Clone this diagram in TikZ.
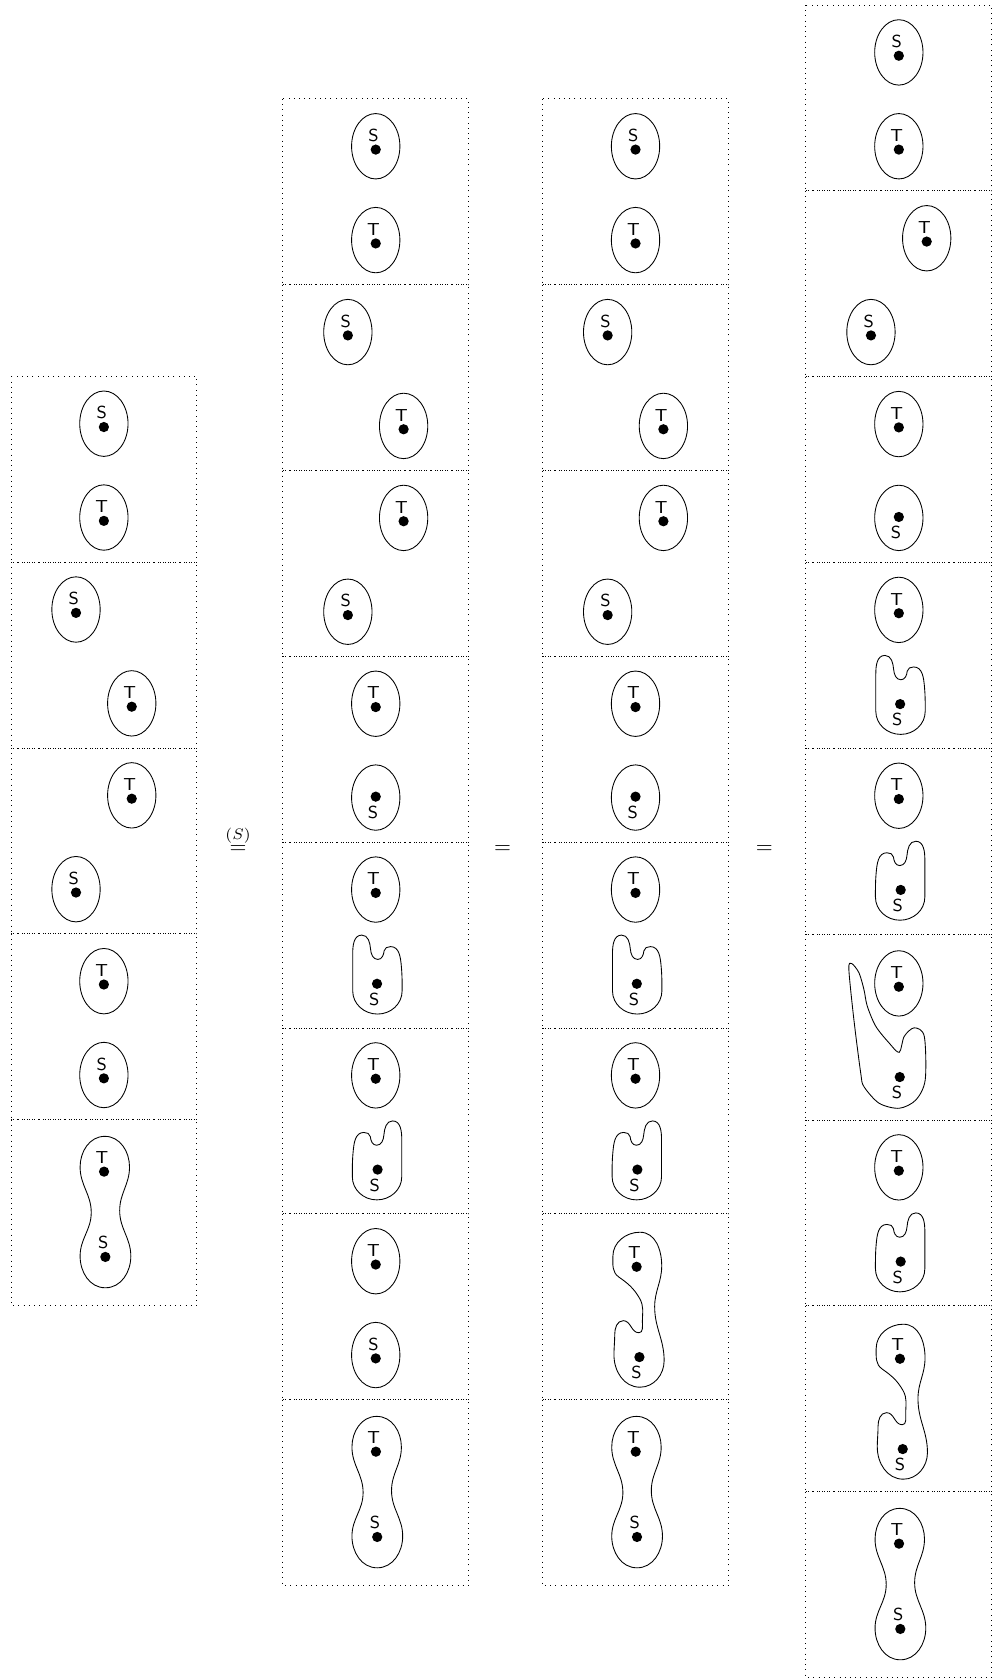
\documentclass[tikz,border=0pt]{standalone}
\usepackage{amsmath}
\usepackage{tikz}

% a marked point with its letter above / below
\newcommand{\ptup}[3]{%
  \node[dot] (#1) at (#2) {};
  \node[tag] (#1l) at ([shift={(-1pt,6.5pt)}]#1.center) {#3};}
\newcommand{\ptdown}[3]{%
  \node[dot] (#1) at (#2) {};
  \node[tag] (#1l) at ([shift={(-1.3pt,-7.1pt)}]#1.center) {#3};}
% an oval round a marked point
\newcommand{\ringup}[4]{%
  \draw (#2,#3) ellipse [x radius=0.13,y radius=0.176];
  \ptup{#1}{#2,#3-0.018}{#4}}
\newcommand{\ringdown}[4]{%
  \draw (#2,#3) ellipse [x radius=0.13,y radius=0.176];
  \ptdown{#1}{#2,#3+0.005}{#4}}

% the blob with a notch on top
\newcommand{\bumppath}{(-0.075,0) to[out=0,in=95] (-0.028,-0.075) to[out=-85,in=180] (0.011,-0.131)
  to[out=0,in=-95] (0.045,-0.085) to[out=85,in=180] (0.08,-0.062) to[out=0,in=95] (0.138,-0.17)
  to[out=-85,in=90] (0.142,-0.3) to[out=-90,in=0] (0.01,-0.425) to[out=180,in=-90] (-0.124,-0.3)
  -- (-0.124,-0.1) to[out=90,in=180] (-0.075,0) -- cycle}

% one box each
\newcommand{\cellST}[2]{\begin{scope}[shift={(#2)}]
  \ringup{#1-S}{0}{0.245}{S} \ringup{#1-T}{0}{-0.26}{T}
  \end{scope}}
\newcommand{\cellSTd}[2]{\begin{scope}[shift={(#2)}]
  \ringup{#1-S}{-0.15}{0.245}{S} \ringup{#1-T}{0.15}{-0.26}{T}
  \end{scope}}
\newcommand{\cellTSd}[2]{\begin{scope}[shift={(#2)}]
  \ringup{#1-T}{0.15}{0.245}{T} \ringup{#1-S}{-0.15}{-0.26}{S}
  \end{scope}}
\newcommand{\cellTS}[2]{\begin{scope}[shift={(#2)}]
  \ringup{#1-T}{0}{0.245}{T} \ringup{#1-S}{0}{-0.26}{S}
  \end{scope}}
\newcommand{\cellTSb}[2]{\begin{scope}[shift={(#2)}]
  \ringup{#1-T}{0}{0.245}{T} \ringdown{#1-S}{0}{-0.26}{S}
  \end{scope}}
\newcommand{\cellbumpL}[2]{\begin{scope}[shift={(#2)}]
  \ringup{#1-T}{0}{0.245}{T}
  \draw \bumppath;
  \ptdown{#1-S}{0.007,-0.262}{S}
  \end{scope}}
\newcommand{\cellbumpR}[2]{\begin{scope}[shift={(#2)}]
  \ringup{#1-T}{0}{0.245}{T}
  \draw[shift={(0.016,0)},xscale=-1] \bumppath;
  \ptdown{#1-S}{0.01,-0.262}{S}
  \end{scope}}
\newcommand{\cellpeanut}[2]{\begin{scope}[shift={(#2)}]
  \draw (0.005,0.41) to[out=180,in=90] (-0.128,0.245) to[out=-90,in=90] (-0.068,0)
    to[out=-90,in=90] (-0.128,-0.235) to[out=-90,in=180] (0.008,-0.405)
    to[out=0,in=-90] (0.145,-0.235) to[out=90,in=-90] (0.085,0.01)
    to[out=90,in=-90] (0.138,0.245) to[out=90,in=0] (0.005,0.41) -- cycle;
  \ptup{#1-T}{0.001,0.22}{T} \ptup{#1-S}{0.008,-0.239}{S}
  \end{scope}}
\newcommand{\cellsnake}[2]{\begin{scope}[shift={(#2)}]
  \draw (0.024,0.401) to[out=0,in=90] (0.141,0.22) to[out=-90,in=90] (0.103,0.0)
    to[out=-90,in=90] (0.154,-0.29) to[out=-90,in=0] (0.024,-0.433)
    to[out=180,in=-90] (-0.116,-0.26) to[out=90,in=-90] (-0.112,-0.15)
    to[out=90,in=180] (-0.066,-0.075) to[out=0,in=180] (0.018,-0.14)
    to[out=0,in=-90] (0.037,-0.08) to[out=90,in=-60] (0.022,0.045)
    to[out=120,in=-35] (-0.09,0.16) to[out=145,in=-90] (-0.122,0.27)
    to[out=90,in=180] (0.024,0.401) -- cycle;
  \ptup{#1-T}{0.006,0.215}{T} \ptdown{#1-S}{0.021,-0.271}{S}
  \end{scope}}
\newcommand{\cellbig}[2]{\begin{scope}[shift={(#2)}]
  \ringup{#1-T}{0}{0.235}{T}
  \draw plot[smooth cycle] coordinates {(-0.254,0.342) (-0.215,0.293) (-0.188,0.203)
    (-0.17,0.113) (-0.124,0.004) (-0.052,-0.086) (0.002,-0.136) (0.029,-0.05) (0.083,-0.004)
    (0.137,-0.05) (0.142,-0.284) (0.092,-0.392) (0.002,-0.437) (-0.106,-0.41) (-0.188,-0.32)
    (-0.205,-0.248) (-0.242,0.041) (-0.269,0.311)};
  \ptdown{#1-S}{0.005,-0.269}{S}
  \end{scope}}

\begin{document}
\begin{tikzpicture}[x=3cm,y=3cm,
  frame/.style={dotted},
  dot/.style={circle,fill,inner sep=0pt,minimum size=4.7pt},
  tag/.style={font=\sffamily\footnotesize,inner sep=0pt}]
\useasboundingbox (0,0) rectangle (5.339,-9.03);

% dotted boxes
\foreach \i in {0,...,4} \draw[frame] (0.059,-2.025-\i) rectangle ++(1,-1);
\foreach \i in {0,...,7} \draw[frame] (1.522,-0.532-\i) rectangle ++(1,-1);
\foreach \i in {0,...,7} \draw[frame] (2.92,-0.532-\i) rectangle ++(1,-1);
\foreach \i in {0,...,8} \draw[frame] (4.337,-0.027-\i) rectangle ++(1,-1);

% first column
\foreach \cell [count=\k] in {\cellST,\cellSTd,\cellTSd,\cellTS,\cellpeanut}
  \cell{a\k}{0.559,-1.525-\k};

% second column
\foreach \cell [count=\k] in {\cellST,\cellSTd,\cellTSd,\cellTSb,\cellbumpL,\cellbumpR,\cellTS,\cellpeanut}
  \cell{b\k}{2.022,-0.032-\k};

% third column
\foreach \cell [count=\k] in {\cellST,\cellSTd,\cellTSd,\cellTSb,\cellbumpL,\cellbumpR,\cellsnake,\cellpeanut}
  \cell{c\k}{3.42,-0.032-\k};

% fourth column
\foreach \cell [count=\k] in {\cellST,\cellTSd,\cellTSb,\cellbumpL,\cellbumpR,\cellbig,\cellbumpR,\cellsnake,\cellpeanut}
  \cell{d\k}{4.837,0.473-\k};

% equalities
\node[anchor=base,yshift=-2.5pt] (eq1) at (1.281,-4.566) {$\overset{(S)}{=}$};
\node[anchor=base,yshift=-2.5pt] (eq2) at (2.704,-4.566) {$=$};
\node[anchor=base,yshift=-2.5pt] (eq3) at (4.113,-4.566) {$=$};
\end{tikzpicture}
\end{document}
